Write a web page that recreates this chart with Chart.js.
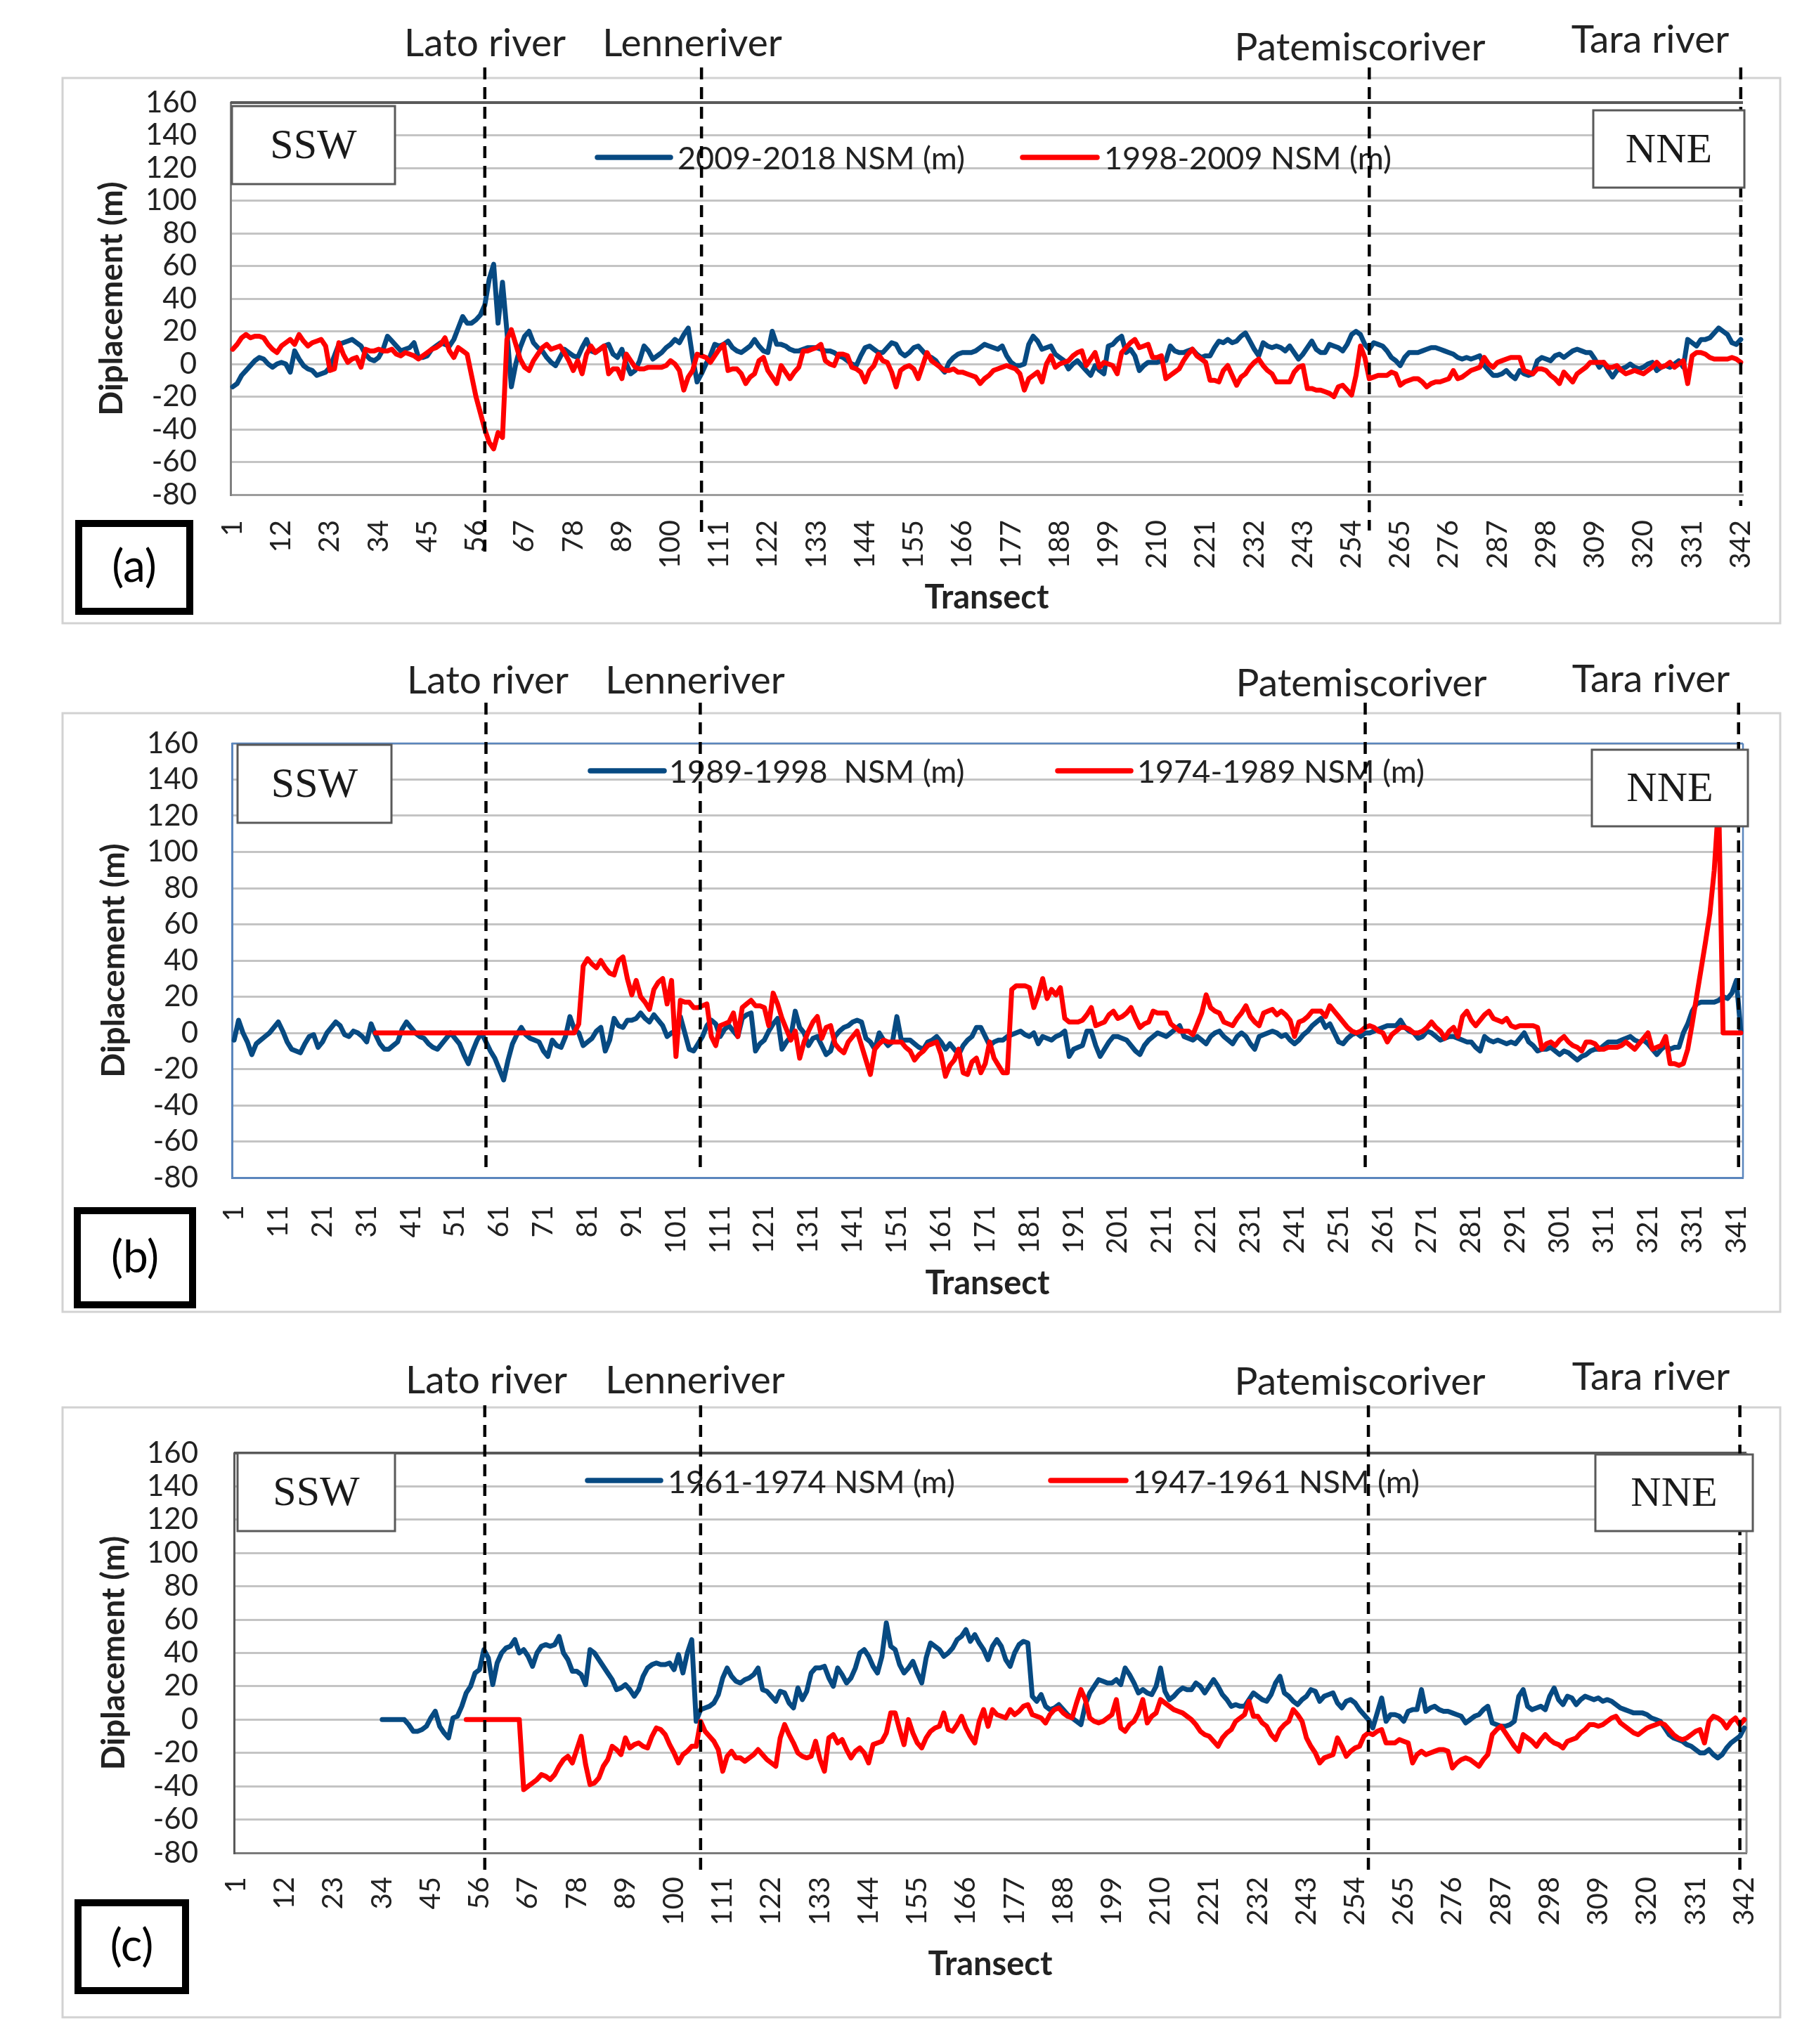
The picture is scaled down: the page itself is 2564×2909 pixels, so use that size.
<!DOCTYPE html>
<html><head><meta charset="utf-8">
<script src="https://cdn.jsdelivr.net/npm/chart.js@4.4.1/dist/chart.umd.min.js"></script>
<style>
html,body{margin:0;padding:0;background:#fff;}
body{width:2564px;height:2909px;position:relative;overflow:hidden;}
canvas{position:absolute;left:0;}
</style></head><body>
<canvas id="cA" width="2564" height="920" style="top:0px"></canvas>
<canvas id="cB" width="2564" height="1000" style="top:920px"></canvas>
<canvas id="cC" width="2564" height="989" style="top:1920px"></canvas>
<script>
// ---------- categories & tick labels ----------
const transects = Array.from({length: 342}, (_, i) => String(i + 1));
const xTicksA = [1,12,23,34,45,56,67,78,89,100,111,122,133,144,155,166,177,188,199,210,221,232,243,254,265,276,287,298,309,320,331,342];
const xTicksB = [1,11,21,31,41,51,61,71,81,91,101,111,121,131,141,151,161,171,181,191,201,211,221,231,241,251,261,271,281,291,301,311,321,331,341];
const xTicksC = [1,12,23,34,45,56,67,78,89,100,111,122,133,144,155,166,177,188,199,210,221,232,243,254,265,276,287,298,309,320,331,342];
const yTickValues = [-80,-60,-40,-20,0,20,40,60,80,100,120,140,160];
const riverNames = ['Lato river','Lenneriver','Patemiscoriver','Tara river'];
const riversA = [58, 107, 258, 342];
const riversB = [58, 106.5, 257, 341.5];
const riversC = [57.2, 106, 257, 341];

// ---------- series (a) ----------
const nsm2009_2018 = [
-14,-12,-7,-4,-1,2,4,3,0,-2,
0,1,0,-5,8,3,-1,-3,-4,-7,
-6,-5,-2,5,12,13,14,15,13,11,
6,3,2,4,9,17,14,11,8,9,
10,13,4,4,5,9,11,13,12,11,
15,22,29,25,25,27,30,36,52,61,
25,50,20,-14,0,10,17,20,13,10,
8,4,1,-1,4,9,7,5,4,10,
15,8,7,9,11,12,6,4,9,0,
-6,-4,2,11,8,3,5,7,10,12,
15,13,18,22,4,-11,-6,0,5,12,
11,12,14,10,8,7,9,11,15,11,
8,7,20,12,12,11,9,8,8,9,
10,10,10,9,8,8,7,5,4,2,
0,-1,5,10,11,9,7,7,10,13,
12,7,5,7,10,11,8,5,4,2,
-2,-5,1,4,6,7,7,7,8,10,
12,11,10,9,11,5,1,-1,-1,0,
12,17,14,9,10,11,6,4,2,-3,
0,2,-1,-4,-7,-1,-4,-6,11,12,
15,17,7,9,5,-4,-1,1,1,1,
2,2,11,8,7,7,8,9,6,4,
5,5,10,14,13,15,13,14,17,19,
14,9,5,13,11,10,11,10,8,11,
7,3,6,10,14,9,7,7,12,11,
10,8,12,18,20,18,12,9,13,12,
11,8,4,2,-1,4,7,7,7,8,
9,10,10,9,8,7,6,4,3,4,
3,4,5,-1,-4,-7,-7,-6,-4,-7,
-9,-4,-6,-7,-6,2,4,3,2,5,
6,4,6,8,9,8,7,7,3,-2,
1,-4,-8,-4,-3,-2,0,-2,-3,-2,
0,1,-4,-2,-1,-2,0,2,-2,15,
13,11,15,15,16,19,22,20,18,13,
12,15];
const nsm1998_2009 = [
9,12,16,18,16,17,17,16,12,9,
7,11,13,15,12,18,14,11,13,14,
15,11,-4,-3,13,6,1,3,4,-2,
9,8,8,9,8,8,9,6,5,7,
6,5,3,5,7,9,10,12,16,8,
4,10,8,6,-7,-20,-30,-40,-48,-52,
-42,-45,15,21,12,3,-2,-4,2,6,
10,12,9,10,11,7,2,-4,2,-6,
6,11,7,9,11,-6,-3,-3,-9,6,
2,-2,-3,-3,-2,-2,-2,-2,-1,2,
0,-4,-16,-8,-4,6,5,4,1,5,
9,12,-4,-3,-3,-6,-12,-8,-6,2,
4,-4,-8,-12,-1,-5,-9,-5,-2,8,
8,9,10,12,2,0,-1,6,6,5,
-2,-3,-5,-11,-4,-1,6,2,1,-5,
-14,-4,-2,-1,-3,-9,-1,7,2,0,
-2,-4,-4,-3,-5,-5,-6,-7,-8,-12,
-9,-7,-4,-3,-2,-1,-2,-3,-6,-16,
-9,-7,-5,-11,0,5,-2,0,1,2,
5,7,8,-1,3,7,-2,1,0,-1,
-6,7,10,13,15,10,11,12,4,4,
5,-9,-7,-5,-3,2,6,9,5,3,
1,-10,-10,-11,-4,-1,-7,-13,-8,-6,
-2,1,3,-1,-4,-6,-11,-11,-11,-11,
-5,-2,-1,-15,-15,-16,-16,-17,-18,-20,
-14,-13,-16,-19,-7,11,4,-9,-8,-7,
-7,-7,-5,-6,-13,-11,-10,-9,-9,-11,
-14,-12,-11,-11,-10,-9,-4,-9,-8,-6,
-4,-3,-2,4,0,-2,1,2,3,4,
4,4,-4,-5,-6,-3,-3,-4,-7,-9,
-12,-5,-8,-11,-6,-4,-2,1,1,1,
1,-2,-2,-1,-4,-6,-5,-4,-5,-6,
-4,-2,1,-2,-1,1,-2,0,2,-12,
5,7,7,6,4,3,3,3,3,4,
3,1];

// ---------- series (b) ----------
const nsm1989_1998 = [
-4,7,0,-5,-12,-6,-4,-2,0,3,
6,1,-5,-9,-10,-11,-6,-2,-1,-8,
-5,0,3,6,4,-1,-2,1,0,-2,
-5,5,-1,-6,-9,-9,-7,-5,2,6,
3,0,-2,-3,-6,-8,-9,-6,-3,0,
-3,-6,-12,-17,-10,-4,0,-5,-10,-14,
-20,-26,-15,-6,-1,3,-1,-3,-4,-5,
-10,-13,-4,-7,-8,-2,9,2,0,-7,
-5,-3,1,3,-10,-4,8,4,3,7,
7,8,11,8,6,10,7,4,-2,0,
1,9,0,-9,-10,-6,-2,4,7,5,
-2,2,4,1,-2,8,10,11,-10,-6,
-4,1,5,8,-9,-5,-2,12,3,0,
-7,-3,-2,-7,-12,-10,-2,1,3,4,
6,7,6,-3,-5,-9,0,-4,-7,-5,
9,-4,-4,-4,-6,-8,-9,-5,-4,-2,
-5,-9,-6,-9,-12,-7,-4,-2,3,3,
-2,-7,-5,-4,-4,-2,-1,0,1,-1,
-2,0,-6,-2,-3,-4,-2,-1,1,-13,
-9,-8,-7,1,1,-7,-13,-9,-5,-2,
-2,-3,-4,-7,-10,-12,-7,-4,-2,0,
-1,-2,0,2,4,-2,-3,-4,-2,-4,
-6,-2,0,1,-2,-4,-6,-2,0,-2,
-6,-9,-2,-1,0,1,0,-2,-1,-4,
-6,-4,-1,1,4,6,8,3,5,0,
-5,-6,-3,-1,0,-2,0,0,1,2,
3,4,4,4,7,3,1,0,-3,-2,
1,0,-2,-4,-3,-2,-2,-3,-4,-5,
-5,-8,-10,-2,-4,-5,-4,-5,-6,-5,
-6,-3,0,-5,-7,-10,-9,-9,-8,-10,
-12,-10,-11,-13,-15,-13,-12,-10,-9,-9,
-7,-5,-5,-5,-4,-3,-2,-4,-5,-4,
-6,-9,-12,-9,-7,-9,-8,-8,0,5,
12,16,17,17,17,17,18,20,19,22,
29,1];
const nsm1974_1989 = [
null,null,null,null,null,null,null,null,null,null,
null,null,null,null,null,null,null,null,null,null,
null,null,null,null,null,null,null,null,null,null,
null,null,0,0,0,0,0,0,0,0,
0,0,0,0,0,0,0,0,0,0,
0,0,0,0,0,0,0,0,0,0,
0,0,0,0,0,0,0,0,0,0,
0,0,0,0,0,0,0,0,5,37,
41,38,36,40,36,33,32,40,42,30,
21,29,20,17,13,24,28,30,16,29,
-13,18,17,17,14,14,15,16,-2,-7,
4,5,6,11,-2,14,16,18,15,15,
14,4,22,16,8,2,-4,1,-14,-5,
1,6,9,-3,3,4,-6,-9,-11,-5,
-2,1,-7,-15,-23,-9,-6,-4,-5,-5,
-5,-5,-8,-10,-15,-12,-10,-7,-6,-5,
-12,-24,-18,-15,-9,-22,-23,-16,-14,-22,
-17,-5,-14,-18,-22,-22,24,26,26,26,
25,14,21,30,19,24,21,25,8,6,
6,6,7,10,14,4,5,6,10,12,
8,9,11,14,8,3,5,6,12,11,
11,11,5,3,1,1,1,-1,5,11,
21,14,12,11,6,5,4,8,11,15,
9,6,4,11,12,13,10,12,10,7,
-2,6,7,9,12,12,12,9,15,12,
9,6,3,1,0,1,3,4,3,1,
0,-5,-1,1,3,3,2,0,0,1,
3,6,3,1,-3,1,3,-2,9,12,
7,4,7,10,12,8,7,6,8,4,
3,4,4,4,4,3,-9,-6,-5,-7,
-4,-2,-5,-7,-8,-10,-5,-5,-6,-9,
-9,-8,-8,-8,-7,-5,-7,-9,-6,-3,
0,-9,-8,-7,-2,-17,-17,-18,-17,-9,
5,20,35,50,66,90,128,0,0,0,
0,0];

// ---------- series (c) ----------
const nsm1961_1974 = [
null,null,null,null,null,null,null,null,null,null,
null,null,null,null,null,null,null,null,null,null,
null,null,null,null,null,null,null,null,null,null,
null,null,null,0,0,0,0,0,0,-3,
-7,-7,-6,-4,1,5,-4,-8,-11,1,
2,8,16,20,28,30,42,37,21,34,
40,43,44,48,40,42,38,32,40,44,
45,44,45,50,40,36,29,29,27,21,
42,40,36,32,28,24,18,19,21,18,
14,18,26,31,33,34,33,33,34,30,
39,28,40,48,-1,6,7,8,10,15,
25,31,26,23,22,24,25,27,31,18,
17,14,11,17,16,10,7,19,12,17,
28,31,31,32,25,20,31,27,22,25,
31,40,42,38,32,28,38,58,44,42,
33,28,31,35,28,22,37,46,44,42,
38,40,43,48,50,54,47,51,46,42,
36,44,48,44,36,32,40,45,47,46,
14,11,15,8,6,7,9,6,3,1,
-1,-3,9,16,20,24,23,22,22,24,
21,31,27,22,16,18,16,15,20,31,
17,12,14,17,19,18,18,22,20,16,
20,24,20,15,12,8,9,8,8,12,
16,14,12,11,15,22,26,16,14,11,
9,12,14,18,17,11,14,15,16,10,
7,11,12,10,6,3,0,-5,4,13,
-1,3,3,2,-1,5,6,6,18,5,
7,8,6,5,5,4,3,2,-2,0,
2,3,6,8,-2,-3,-4,-4,-3,-1,
14,18,8,6,7,8,6,14,19,12,
9,14,13,9,12,14,13,12,13,11,
12,11,9,7,6,5,4,4,4,3,
1,0,-1,-5,-9,-11,-12,-13,-15,-16,
-18,-20,-20,-18,-21,-23,-21,-17,-14,-12,
-10,-5];
const nsm1947_1961 = [
null,null,null,null,null,null,null,null,null,null,
null,null,null,null,null,null,null,null,null,null,
null,null,null,null,null,null,null,null,null,null,
null,null,null,null,null,null,null,null,null,null,
null,null,null,null,null,null,null,null,null,null,
null,null,0,0,0,0,0,0,0,0,
0,0,0,0,0,-42,-40,-38,-36,-33,
-34,-36,-33,-28,-24,-22,-26,-18,-10,-27,
-39,-38,-35,-28,-24,-16,-18,-21,-11,-17,
-15,-14,-16,-17,-10,-5,-6,-9,-15,-20,
-26,-21,-19,-16,-16,-1,-7,-10,-13,-18,
-31,-22,-19,-23,-23,-25,-23,-21,-18,-21,
-24,-26,-28,-11,-3,-9,-14,-20,-22,-23,
-22,-13,-24,-31,-11,-9,-14,-12,-18,-23,
-19,-17,-20,-26,-15,-14,-13,-8,4,4,
-6,-15,0,-8,-14,-17,-11,-7,-5,-4,
4,-6,-7,-3,2,-5,-10,-14,-1,6,
-4,6,3,2,1,6,3,5,8,9,
3,2,1,-2,3,6,7,4,2,1,
10,18,12,1,-1,-2,-1,1,3,12,
-5,-7,-3,-1,4,12,-2,2,4,12,
10,8,6,5,4,2,0,-3,-7,-9,
-10,-13,-16,-11,-8,-6,-1,1,3,11,
2,2,-2,-4,-9,-12,-6,-3,-1,6,
3,-1,-11,-16,-20,-26,-23,-22,-21,-11,
-16,-22,-19,-17,-16,-10,-8,-9,-7,-6,
-14,-14,-14,-12,-13,-14,-26,-21,-19,-21,
-20,-19,-18,-18,-19,-29,-26,-24,-23,-24,
-26,-28,-24,-21,-9,-6,-4,-8,-12,-16,
-19,-9,-11,-13,-16,-12,-9,-12,-14,-15,
-17,-13,-12,-11,-8,-6,-3,-3,-4,-3,
-1,1,2,-2,-4,-6,-8,-9,-7,-5,
-4,-3,-2,-3,-6,-9,-11,-12,-11,-9,
-7,-6,-14,-1,2,1,-1,-5,-1,1,
-3,0];

// ---------- styles / layout ----------
const BLUE = '#074a82', RED = '#ff0000', TXT = '#222222';
const layoutA = {
  top:146, right:84, yAxisW:328, xAxisH:216, xTickPad:36, yTickPad:48, xTitlePad:41, yTitlePad:132,
  frame:[89,111,2533,887], plotBorder:[['top','#595959',4]], xBorder:'#9c9c9c', yBorder:'#808080',
  legendY:224, legendBase:241, legend:[{x0:850,x1:954,tx:964},{x0:1455,x1:1561,tx:1571}],
  dashTop:96, dashBottom:[790,760,755,720],
  riverLabels:[[690,80],[985,80],[1935,86],[2348,75]],
  boxes:[{t:'SSW',r:[330,151,562,262]},{t:'NNE',r:[2267,157,2482,267]}],
  letter:'(a)', letterBox:[107,740,275,875]
};
const layoutB = {
  top:138, right:77, yAxisW:330, xAxisH:244, xTickPad:39, yTickPad:48, xTitlePad:65, yTitlePad:135,
  frame:[89,95,2533,947], plotBorder:[['top','#5b86bd',2.5],['right','#5b86bd',2.5]], xBorder:'#5b86bd', yBorder:'#5b86bd',
  legendY:177, legendBase:194, legend:[{x0:840,x1:945,tx:952},{x0:1505,x1:1609,tx:1618}],
  dashTop:80, dashBottom:[741,741,741,741],
  riverLabels:[[694,67],[989,67],[1937,71],[2349,65]],
  boxes:[{t:'SSW',r:[338,140,557,251]},{t:'NNE',r:[2265,147,2487,256]}],
  letter:'(b)', letterBox:[105,798,279,942]
};
const layoutC = {
  top:148, right:78, yAxisW:333, xAxisH:272, xTickPad:34, yTickPad:51, xTitlePad:85, yTitlePad:135,
  frame:[89,83,2533,951], plotBorder:[['top','#595959',4],['right','#8c8c8c',3]], xBorder:'#7a7a7a', yBorder:'#595959',
  legendY:187, legendBase:205, legend:[{x0:836,x1:940,tx:950},{x0:1495,x1:1602,tx:1611}],
  dashTop:80, dashBottom:[751,751,751,751],
  riverLabels:[[692,63],[989,63],[1935,65],[2349,58]],
  boxes:[{t:'SSW',r:[338,148,562,259]},{t:'NNE',r:[2270,150,2494,259]}],
  letter:'(c)', letterBox:[106,783,269,918]
};

const deco = {
  id: 'deco',
  beforeDraw(chart, args, o) {
    const ctx = chart.ctx, L = o.L;
    ctx.save();
    ctx.fillStyle = '#fff';
    ctx.fillRect(0, 0, chart.width, chart.height);
    const f = L.frame;
    ctx.strokeStyle = '#d2d2d2'; ctx.lineWidth = 3;
    ctx.strokeRect(f[0], f[1], f[2] - f[0], f[3] - f[1]);
    ctx.restore();
  },
  beforeDatasetsDraw(chart, args, o) {
    const {ctx, chartArea: a} = chart, L = o.L;
    ctx.save();
    for (const [side, color, w] of L.plotBorder) {
      ctx.strokeStyle = color; ctx.lineWidth = w; ctx.beginPath();
      if (side === 'top') { ctx.moveTo(a.left, a.top); ctx.lineTo(a.right, a.top); }
      if (side === 'right') { ctx.moveTo(a.right, a.top); ctx.lineTo(a.right, a.bottom); }
      ctx.stroke();
    }
    ctx.restore();
  },
  afterDatasetsDraw(chart, args, o) {
    const {ctx, scales: {x}} = chart, L = o.L;
    ctx.save();
    // legend
    ctx.font = '45px Lato';
    ctx.textAlign = 'left'; ctx.textBaseline = 'alphabetic';
    chart.data.datasets.forEach((ds, i) => {
      const g = L.legend[i];
      ctx.strokeStyle = ds.borderColor; ctx.lineWidth = 7.5; ctx.lineCap = 'round';
      ctx.beginPath(); ctx.moveTo(g.x0, L.legendY); ctx.lineTo(g.x1, L.legendY); ctx.stroke();
      ctx.fillStyle = TXT;
      ctx.fillText(ds.label, g.tx, L.legendBase);
    });
    // river dashed lines
    ctx.strokeStyle = '#000'; ctx.lineWidth = 4.5; ctx.lineCap = 'butt';
    ctx.setLineDash([17, 11]);
    o.rivers.forEach((t, i) => {
      const px = x.getPixelForValue(t - 1);
      ctx.beginPath(); ctx.moveTo(px, L.dashTop); ctx.lineTo(px, L.dashBottom[i]); ctx.stroke();
    });
    ctx.setLineDash([]);
    // direction boxes
    ctx.font = '60px "Liberation Serif"';
    ctx.textAlign = 'center'; ctx.textBaseline = 'middle';
    for (const b of L.boxes) {
      const [x0, y0, x1, y1] = b.r;
      ctx.fillStyle = '#fff'; ctx.fillRect(x0, y0, x1 - x0, y1 - y0);
      ctx.strokeStyle = '#595959'; ctx.lineWidth = 3; ctx.strokeRect(x0, y0, x1 - x0, y1 - y0);
      ctx.fillStyle = '#1a1a1a'; ctx.fillText(b.t, (x0 + x1) / 2, (y0 + y1) / 2 + 3);
    }
    // river labels
    ctx.font = '55px Lato'; ctx.fillStyle = TXT;
    ctx.textAlign = 'center'; ctx.textBaseline = 'alphabetic';
    riverNames.forEach((n, i) => ctx.fillText(n, L.riverLabels[i][0], L.riverLabels[i][1]));
    // panel letter
    const [p0, q0, p1, q1] = L.letterBox;
    ctx.strokeStyle = '#000'; ctx.lineWidth = 10;
    ctx.strokeRect(p0 + 5, q0 + 5, p1 - p0 - 10, q1 - q0 - 10);
    ctx.font = '64px Lato'; ctx.fillStyle = '#000'; ctx.textBaseline = 'middle';
    ctx.fillText(L.letter, (p0 + p1) / 2, (q0 + q1) / 2);
    ctx.restore();
  }
};

function makeChart(id, blue, red, names, tickList, rivers, L) {
  const show = new Set(tickList.map(String));
  return new Chart(document.getElementById(id), {
    type: 'line',
    data: {
      labels: transects,
      datasets: [
        {label: names[0], data: blue, borderColor: BLUE, order: 1},
        {label: names[1], data: red, borderColor: RED, order: 0}
      ]
    },
    plugins: [deco],
    options: {
      responsive: false, animation: false, devicePixelRatio: 1,
      layout: {padding: {left: 0, top: L.top, right: L.right, bottom: 0}},
      elements: {
        point: {radius: 0},
        line: {borderWidth: 7, tension: 0, borderJoinStyle: 'round', borderCapStyle: 'round', fill: false}
      },
      plugins: {legend: {display: false}, tooltip: {enabled: false}, deco: {L, rivers}},
      scales: {
        x: {
          type: 'category', offset: true,
          grid: {display: false, drawTicks: false},
          border: {display: true, color: L.xBorder, width: 3},
          ticks: {
            autoSkip: false, minRotation: 90, maxRotation: 90, padding: L.xTickPad,
            font: {family: 'Lato', size: 40}, color: TXT,
            callback(v) { const lab = this.getLabelForValue(v); return show.has(lab) ? lab : ''; }
          },
          title: {display: true, text: 'Transect', color: TXT,
                  font: {family: 'Lato', size: 47, weight: 'bold'}, padding: {top: 0, bottom: L.xTitlePad}},
          afterFit(s) { s.height = L.xAxisH; }
        },
        y: {
          min: -80, max: 160,
          afterBuildTicks(s) { s.ticks = yTickValues.map(v => ({value: v})); },
          ticks: {autoSkip: false, padding: L.yTickPad, font: {family: 'Lato', size: 42}, color: TXT},
          grid: {color: '#c4c4c4', lineWidth: 3, drawTicks: false},
          border: {display: true, color: L.yBorder, width: 3},
          title: {display: true, text: 'Diplacement (m)', color: TXT,
                  font: {family: 'Lato', size: 46, weight: 'bold'}, padding: {top: L.yTitlePad, bottom: 0}},
          afterFit(s) { s.width = L.yAxisW; }
        }
      }
    }
  });
}

function build() {
  makeChart('cA', nsm2009_2018, nsm1998_2009, ['2009-2018 NSM (m)', '1998-2009 NSM (m)'], xTicksA, riversA, layoutA);
  makeChart('cB', nsm1989_1998, nsm1974_1989, ['1989-1998  NSM (m)', '1974-1989 NSM (m)'], xTicksB, riversB, layoutB);
  makeChart('cC', nsm1961_1974, nsm1947_1961, ['1961-1974 NSM (m)', '1947-1961 NSM (m)'], xTicksC, riversC, layoutC);
}
Promise.all(['40px Lato', 'bold 47px Lato', '60px "Liberation Serif"'].map(f => document.fonts.load(f)))
  .catch(() => {}).then(build);
</script></body></html>
